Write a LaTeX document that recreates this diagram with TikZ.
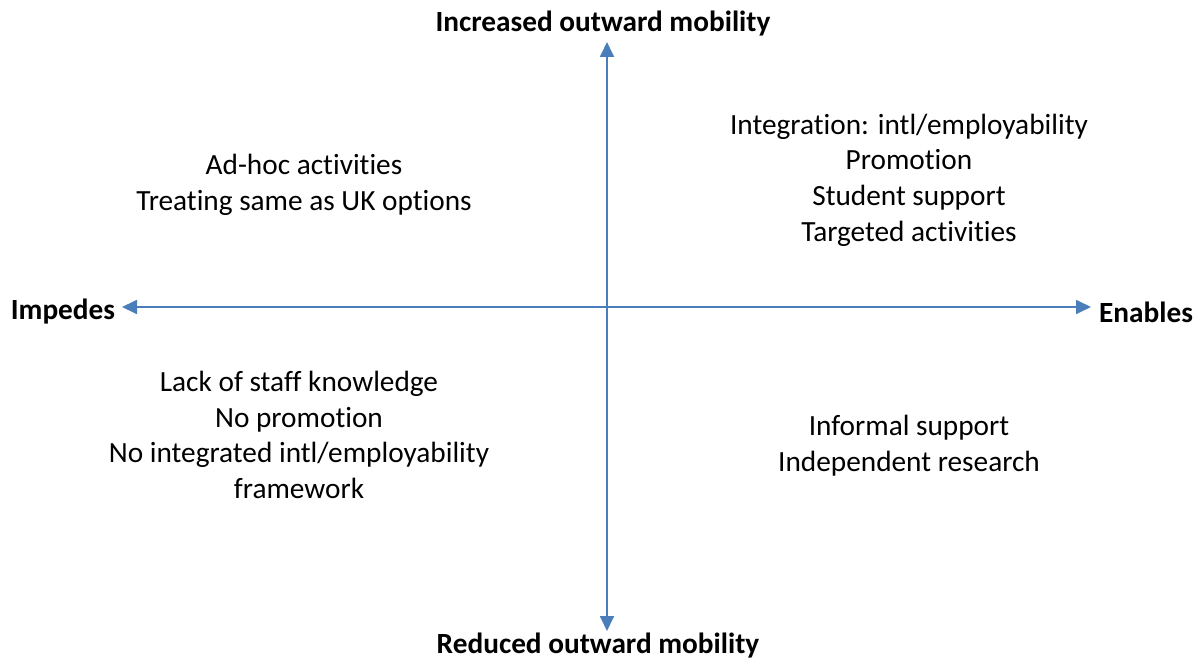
\documentclass[tikz,border=0pt]{standalone}
\usepackage{fontspec}
\setmainfont{Carlito}[Ligatures=NoCommon]
\usetikzlibrary{arrows.meta}
\definecolor{axisblue}{HTML}{4A7EBB}
\begin{document}
\begin{tikzpicture}[x=1pt,y=-1pt,
  axis/.style={draw=axisblue,line width=1.8pt,-{Triangle[width=14pt,length=15pt]}},
  lbl/.style={font=\fontsize{29.3}{35.5}\selectfont\bfseries,inner sep=0pt,anchor=center},
  txt/.style={font=\fontsize{29.3}{35.7}\selectfont,inner sep=0pt,align=center,anchor=center}]
\useasboundingbox (0,0) rectangle (1203,661);
\coordinate (c) at (607,307);
\coordinate (top) at (607,42);
\coordinate (bot) at (607,631);
\coordinate (lft) at (122,307);
\coordinate (rgt) at (1091,307);
\draw[axis] (c) -- (top);
\draw[axis] (c) -- (bot);
\draw[axis] (c) -- (lft);
\draw[axis] (c) -- (rgt);
\node[lbl] (ti) at (603,24) {Increased outward mobility};
\node[lbl] (tb) at (598,646) {Reduced outward mobility};
\node[lbl] (im) at (63,312) {Impedes};
\node[lbl] (en) at (1146,312) {Enables};
\node[txt] (q2) at (304,185) {Ad-hoc activities\\Treating same as UK options};
\node[txt] (q1) at (909,180) {Integration: intl/employability\\Promotion\\Student support\\Targeted activities};
\node[txt] (q3) at (299,435) {Lack of staff knowledge\\No promotion\\No integrated intl/employability\\framework};
\node[txt] (q4) at (909,446) {Informal support\\Independent research};
\end{tikzpicture}
\end{document}
